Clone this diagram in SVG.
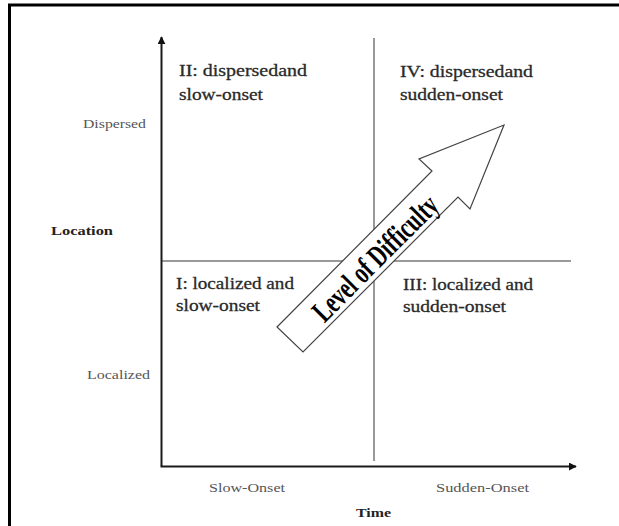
<svg xmlns="http://www.w3.org/2000/svg" width="619" height="526" viewBox="0 0 619 526">
<defs>
<marker id="ah" viewBox="0 0 10 10" refX="9" refY="5" markerWidth="4" markerHeight="4" orient="auto" markerUnits="strokeWidth">
<path d="M0,0 L10,5 L0,10 z" fill="#111"/>
</marker>
<style>
.q{font-family:"Liberation Serif",serif;font-size:17px;fill:#2a2a2a;stroke:#2a2a2a;stroke-width:0.3}
.ax{font-family:"Liberation Serif",serif;font-size:13px;fill:#555}
.axb{font-family:"Liberation Serif",serif;font-size:13px;font-weight:bold;fill:#222}
.axis{stroke:#1a1a1a;stroke-width:2;fill:none}
.div{stroke:#777;stroke-width:1.5;fill:none}
</style>
</defs>
<rect x="0" y="0" width="619" height="526" fill="#fff"/>
<rect x="9.5" y="5" width="620" height="530" fill="none" stroke="#000" stroke-width="3"/>

<g id="connectors">
<line class="div" x1="374" y1="38" x2="374" y2="461"/>
<line class="div" x1="161" y1="261" x2="571" y2="261"/>
<line class="axis" x1="161.5" y1="466" x2="161.5" y2="37" marker-end="url(#ah)"/>
<line class="axis" x1="160.5" y1="466.5" x2="576" y2="466.5" marker-end="url(#ah)"/>
</g>

<g id="quadrant-II">
<text class="q" x="179" y="76" textLength="128" lengthAdjust="spacingAndGlyphs">II: dispersedand</text>
<text class="q" x="179" y="100" textLength="84" lengthAdjust="spacingAndGlyphs">slow-onset</text>
</g>
<g id="quadrant-IV">
<text class="q" x="400" y="77" textLength="133" lengthAdjust="spacingAndGlyphs">IV: dispersedand</text>
<text class="q" x="400" y="100" textLength="103" lengthAdjust="spacingAndGlyphs">sudden-onset</text>
</g>
<g id="quadrant-I">
<text class="q" x="176" y="289" textLength="118" lengthAdjust="spacingAndGlyphs">I: localized and</text>
<text class="q" x="176" y="311" textLength="84" lengthAdjust="spacingAndGlyphs">slow-onset</text>
</g>
<g id="quadrant-III">
<text class="q" x="403" y="290" textLength="130" lengthAdjust="spacingAndGlyphs">III: localized and</text>
<text class="q" x="403" y="312" textLength="103" lengthAdjust="spacingAndGlyphs">sudden-onset</text>
</g>

<g id="difficulty-arrow">
<polygon points="277,327 432,171 419,159 504,125 470,209 458,197 303,352" fill="#fff" stroke="#444" stroke-width="1.2"/>
<g transform="translate(375,258) rotate(-45)">
<text x="0" y="0" text-anchor="middle" dominant-baseline="central" textLength="164" lengthAdjust="spacingAndGlyphs" style="font-family:'Liberation Serif',serif;font-size:31px;font-weight:bold;fill:#000">Level of Difficulty</text>
</g>
</g>

<g id="y-labels">
<text class="ax" x="83" y="128" textLength="63" lengthAdjust="spacingAndGlyphs">Dispersed</text>
<text class="axb" x="51" y="235" textLength="62" lengthAdjust="spacingAndGlyphs">Location</text>
<text class="ax" x="87" y="379" textLength="63" lengthAdjust="spacingAndGlyphs">Localized</text>
</g>
<g id="x-labels">
<text class="ax" x="209" y="492" textLength="76" lengthAdjust="spacingAndGlyphs">Slow-Onset</text>
<text class="ax" x="436" y="492" textLength="93" lengthAdjust="spacingAndGlyphs">Sudden-Onset</text>
<text class="axb" x="356" y="517" textLength="35" lengthAdjust="spacingAndGlyphs">Time</text>
</g>
</svg>
